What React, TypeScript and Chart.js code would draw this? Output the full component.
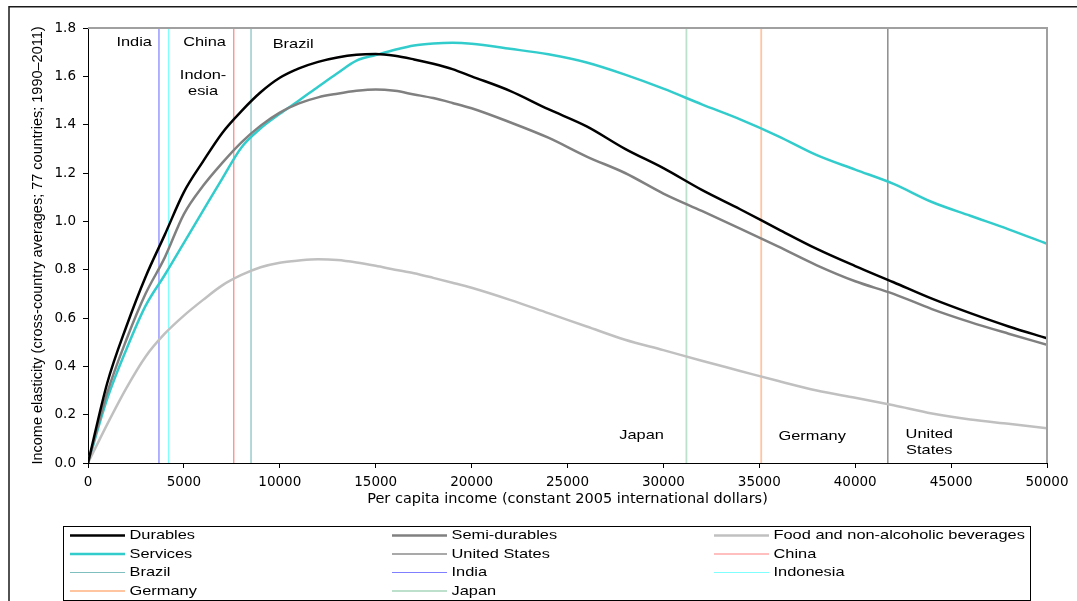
import React, { useEffect, useRef } from "react";
import { Chart, registerables } from "chart.js";

Chart.register(...registerables);

// ---- data ----
const incomeX = [0, 1000, 2000, 3000, 4000, 5000, 6000, 7000, 8000, 9000, 10000, 11000, 12000, 13000, 14000, 15000, 16000, 17000, 18000, 19000, 20000, 22000, 24000, 26000, 28000, 30000, 32000, 34000, 36000, 38000, 40000, 42000, 44000, 46000, 48000, 50000];
const durables = [0, 0.33, 0.565, 0.77, 0.944, 1.121, 1.248, 1.366, 1.456, 1.534, 1.594, 1.633, 1.66, 1.678, 1.689, 1.692, 1.685, 1.67, 1.652, 1.63, 1.6, 1.54, 1.464, 1.393, 1.3, 1.22, 1.13, 1.05, 0.967, 0.886, 0.815, 0.748, 0.68, 0.62, 0.565, 0.516];
const semiDurables = [0, 0.29, 0.51, 0.7, 0.85, 1.03, 1.147, 1.242, 1.327, 1.396, 1.45, 1.488, 1.513, 1.528, 1.54, 1.546, 1.54, 1.525, 1.51, 1.49, 1.468, 1.41, 1.346, 1.268, 1.2, 1.115, 1.043, 0.97, 0.895, 0.818, 0.752, 0.7, 0.637, 0.583, 0.535, 0.489];
const foodBeverages = [0, 0.16, 0.31, 0.44, 0.535, 0.61, 0.675, 0.735, 0.778, 0.81, 0.829, 0.838, 0.843, 0.84, 0.83, 0.816, 0.8, 0.785, 0.766, 0.746, 0.725, 0.675, 0.62, 0.565, 0.51, 0.467, 0.423, 0.381, 0.339, 0.3, 0.27, 0.239, 0.205, 0.18, 0.162, 0.144];
const services = [0, 0.265, 0.47, 0.65, 0.778, 0.911, 1.044, 1.177, 1.306, 1.385, 1.445, 1.5, 1.557, 1.613, 1.665, 1.688, 1.71, 1.728, 1.736, 1.739, 1.735, 1.714, 1.691, 1.657, 1.607, 1.549, 1.484, 1.422, 1.352, 1.274, 1.214, 1.155, 1.08, 1.023, 0.967, 0.907];

const seriesNames = ["Durables", "Semi-durables", "Food and non-alcoholic beverages", "Services"];
const countryNames = ["United States", "China", "Brazil", "India", "Indonesia", "Germany", "Japan"];
const countryIncome = [41700, 7600, 8500, 3700, 4200, 35100, 31200];

// in-plot country labels (data units)
const labelText = ["India", "China", "Brazil", "Indon-", "esia", "Japan", "Germany", "United", "States"];
const labelIncome = [2406, 6078, 10697, 6000, 6000, 28863, 37758, 43862, 43862];
const labelElasticity = [1.739, 1.739, 1.734, 1.602, 1.537, 0.116, 0.109, 0.119, 0.05];

const xMin = 0;
const xMax = 50000;
const xStep = 5000;
const yMin = 0;
const yMax = 1.8;
const yStep = 0.2;

const xTitle = "Per capita income (constant 2005 international dollars)";
const yTitle = "Income elasticity (cross-country averages; 77 countries; 1990\u20132011)";

// ---- styles ----
const seriesColors = ["#000000", "#808080", "#c0c0c0", "#33cccc"];
const seriesWidths = [2.5, 2.5, 2.5, 2.5];
const countryColors = ["#8c8c8c", "#ff8080", "#7fbfbf", "#7f7fff", "#80ffff", "#ffc4a0", "#bde0cc"];
const countryWidths = [1.5, 1.2, 1.2, 1.2, 1.2, 1.8, 1.8];

const TEXT_FONT = '13px "Liberation Sans", Arial, sans-serif';
const TEXT_STRETCH = 1.26;

function stretchedText(ctx: CanvasRenderingContext2D, text: string, x: number, y: number, align: CanvasTextAlign) {
  ctx.save();
  ctx.translate(x, y);
  ctx.scale(TEXT_STRETCH, 1);
  ctx.font = TEXT_FONT;
  ctx.fillStyle = "#000";
  ctx.textAlign = align;
  ctx.textBaseline = "middle";
  ctx.fillText(text, 0, 0);
  ctx.restore();
}

const decorPlugin = {
  id: "decor",
  beforeDraw(chart: any) {
    const ctx = chart.ctx as CanvasRenderingContext2D;
    ctx.save();
    ctx.fillStyle = "#ffffff";
    ctx.fillRect(0, 0, chart.width, chart.height);
    ctx.restore();
  },
  afterDraw(chart: any) {
    const ctx = chart.ctx as CanvasRenderingContext2D;
    const { left, right, top, bottom } = chart.chartArea;
    const xs = chart.scales.x;
    const ys = chart.scales.y;
    ctx.save();
    // plot area top / right border
    ctx.strokeStyle = "#a0a0a0";
    ctx.lineWidth = 2;
    ctx.beginPath();
    ctx.moveTo(left, top);
    ctx.lineTo(right, top);
    ctx.lineTo(right, bottom);
    ctx.stroke();
    // outer frame
    ctx.strokeStyle = "#1a1a1a";
    ctx.lineWidth = 1.5;
    ctx.beginPath();
    ctx.moveTo(9, chart.height + 2);
    ctx.lineTo(9, 6.75);
    ctx.lineTo(chart.width + 2, 6.75);
    ctx.stroke();
    ctx.restore();

    // in-plot labels
    for (let i = 0; i < labelText.length; i++) {
      stretchedText(ctx, labelText[i], xs.getPixelForValue(labelIncome[i]), ys.getPixelForValue(labelElasticity[i]), "center");
    }

    // legend
    const boxL = 63.5, boxT = 526.5, boxR = 1030.5, boxB = 600.5;
    ctx.save();
    ctx.strokeStyle = "#000";
    ctx.lineWidth = 1;
    ctx.strokeRect(boxL, boxT, boxR - boxL, boxB - boxT);
    ctx.restore();
    const colX = [70, 392, 714];
    const rowY0 = 535.5;
    const rowH = 18.5;
    chart.data.datasets.forEach((ds: any, i: number) => {
      const col = i % 3;
      const row = Math.floor(i / 3);
      const x0 = colX[col];
      const y = rowY0 + row * rowH;
      ctx.save();
      ctx.strokeStyle = ds.borderColor;
      ctx.lineWidth = ds.borderWidth;
      ctx.beginPath();
      ctx.moveTo(x0, y);
      ctx.lineTo(x0 + 55, y);
      ctx.stroke();
      ctx.restore();
      stretchedText(ctx, ds.label, x0 + 59.5, y, "left");
    });
  },
};

export default function App() {
  const canvasRef = useRef<HTMLCanvasElement | null>(null);

  useEffect(() => {
    if (!canvasRef.current) return;
    const seriesValues = [durables, semiDurables, foodBeverages, services];
    const curveSets = seriesNames.map((name, s) => ({
      label: name,
      data: incomeX.map((x, i) => ({ x, y: seriesValues[s][i] })),
      borderColor: seriesColors[s],
      backgroundColor: seriesColors[s],
      borderWidth: seriesWidths[s],
      pointRadius: 0,
      cubicInterpolationMode: "monotone" as const,
      fill: false,
    }));
    const countrySets = countryNames.map((name, c) => ({
      label: name,
      data: [
        { x: countryIncome[c], y: yMin },
        { x: countryIncome[c], y: yMax },
      ],
      borderColor: countryColors[c],
      backgroundColor: countryColors[c],
      borderWidth: countryWidths[c],
      pointRadius: 0,
      tension: 0,
      fill: false,
    }));
    // Legend order: row-major 3 columns
    const datasets = [
      curveSets[0], curveSets[1], curveSets[2],
      curveSets[3], countrySets[0], countrySets[1],
      countrySets[2], countrySets[3], countrySets[4],
      countrySets[5], countrySets[6],
    ];

    const chart = new Chart(canvasRef.current, {
      type: "line",
      data: { datasets },
      plugins: [decorPlugin],
      options: {
        animation: false,
        responsive: false,
        devicePixelRatio: 1,
        events: [],
        layout: { padding: { left: 0, right: 30, top: 28, bottom: 91 } },
        plugins: {
          legend: { display: false },
          tooltip: { enabled: false },
          title: { display: false },
        },
        scales: {
          x: {
            type: "linear",
            min: xMin,
            max: xMax,
            afterFit: (scale: any) => {
              scale.height = 47;
            },
            ticks: {
              stepSize: xStep,
              color: "#000",
              padding: 6,
              maxRotation: 0,
              autoSkip: false,
              font: { family: '"DejaVu Sans", sans-serif', size: 13.5 },
              callback: (v: any) => String(v),
            },
            grid: {
              drawOnChartArea: false,
              drawTicks: true,
              tickLength: 5,
              tickColor: "#000",
              tickWidth: 1,
            },
            border: { display: true, color: "#000", width: 1 },
            title: {
              display: true,
              text: xTitle,
              color: "#000",
              font: { family: '"DejaVu Sans", sans-serif', size: 14.5 },
              padding: { top: 0, bottom: 2.5 },
            },
          },
          y: {
            type: "linear",
            min: yMin,
            max: yMax,
            afterFit: (scale: any) => {
              scale.width = 88;
            },
            ticks: {
              stepSize: yStep,
              color: "#000",
              padding: 7,
              font: { family: '"DejaVu Sans", sans-serif', size: 13.5 },
              callback: (v: any) => Number(v).toFixed(1),
            },
            grid: {
              drawOnChartArea: false,
              drawTicks: true,
              tickLength: 5,
              tickColor: "#000",
              tickWidth: 1,
            },
            border: { display: true, color: "#000", width: 1 },
            title: {
              display: true,
              text: yTitle,
              color: "#000",
              font: { family: '"Liberation Sans", Arial, sans-serif', size: 14.5 },
              padding: { top: 29.3, bottom: 0 },
            },
          },
        },
      },
    });
    return () => chart.destroy();
  }, []);

  return (
    <div style={{ position: "fixed", left: 0, top: 0, width: 1077, height: 601, background: "#fff", overflow: "hidden" }}>
      <canvas ref={canvasRef} width={1077} height={601} style={{ display: "block", width: 1077, height: 601 }} />
    </div>
  );
}
